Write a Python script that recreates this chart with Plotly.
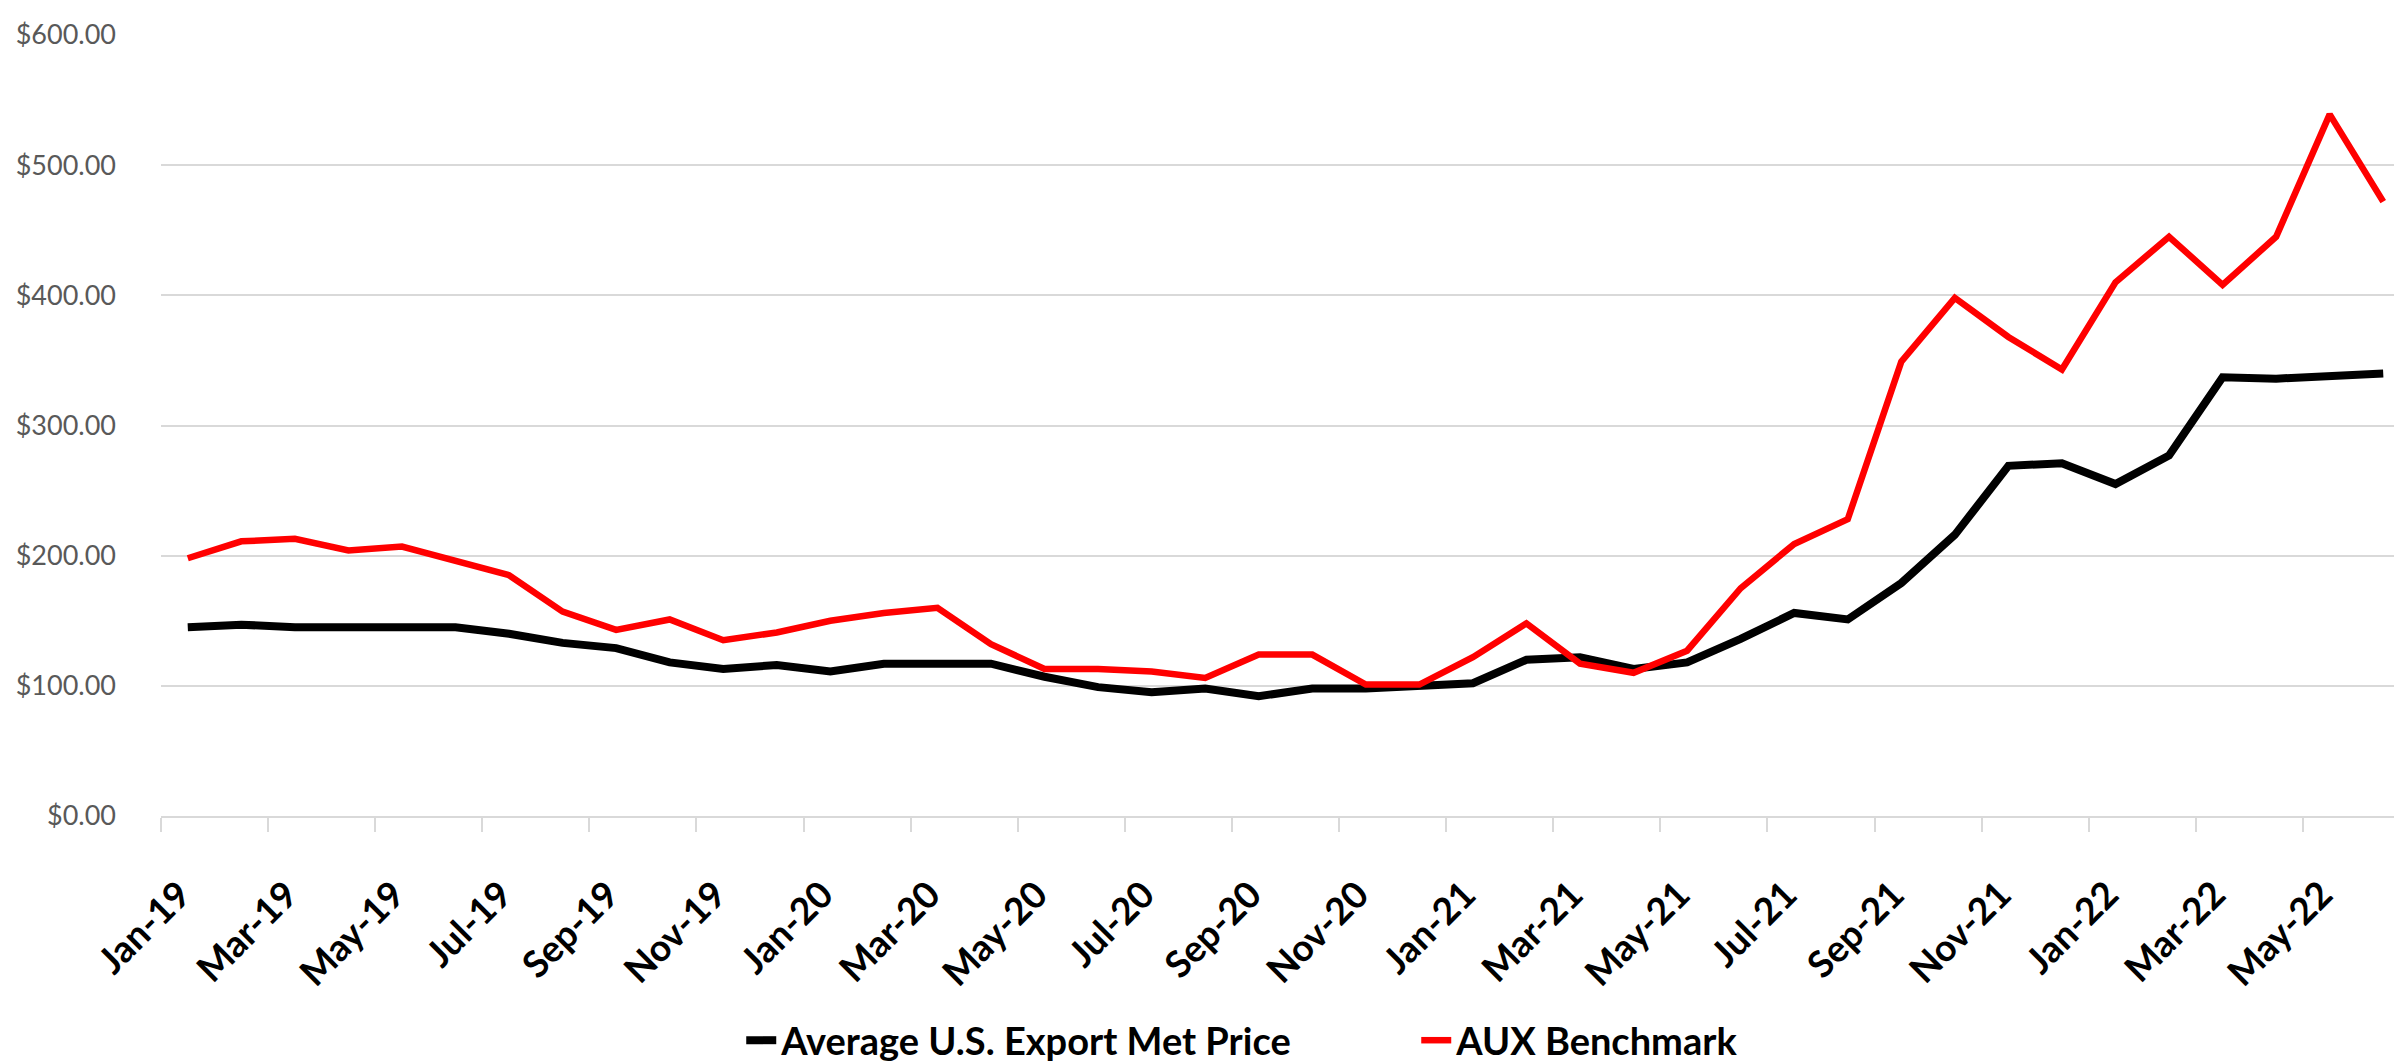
import plotly.graph_objects as go

months = ["Jan-19", "Feb-19", "Mar-19", "Apr-19", "May-19", "Jun-19", "Jul-19", "Aug-19", "Sep-19", "Oct-19",
          "Nov-19", "Dec-19", "Jan-20", "Feb-20", "Mar-20", "Apr-20", "May-20", "Jun-20", "Jul-20", "Aug-20",
          "Sep-20", "Oct-20", "Nov-20", "Dec-20", "Jan-21", "Feb-21", "Mar-21", "Apr-21", "May-21", "Jun-21",
          "Jul-21", "Aug-21", "Sep-21", "Oct-21", "Nov-21", "Dec-21", "Jan-22", "Feb-22", "Mar-22", "Apr-22",
          "May-22", "Jun-22"]

us_export_met_price = [145, 147, 145, 145, 145, 145, 140, 133, 129, 118,
                       113, 116, 111, 117, 117, 117, 107, 99, 95, 98,
                       92, 98, 98, 100, 102, 120, 122, 113, 118, 136,
                       156, 151, 179, 216, 269, 271, 255, 277, 337, 336,
                       338, 340]

aux_benchmark = [198, 211, 213, 204, 207, 196, 185, 157, 143, 151,
                 135, 141, 150, 156, 160, 132, 113, 113, 111, 106,
                 124, 124, 101, 101, 122, 148, 117, 110, 127, 175,
                 209, 228, 349, 398, 368, 343, 410, 445, 408, 445,
                 539, 472]

series_names = ["Average U.S. Export Met Price", "AUX Benchmark"]

x_idx = list(range(len(months)))
tick_idx = x_idx[::2]
tick_text = months[::2]

fig = go.Figure()
fig.add_trace(go.Scatter(x=x_idx, y=us_export_met_price, mode="lines", name=series_names[0],
                         line=dict(color="#000000", width=8)))
fig.add_trace(go.Scatter(x=x_idx, y=aux_benchmark, mode="lines", name=series_names[1],
                         line=dict(color="#ff0000", width=6.5)))

FONT = "Lato, Carlito, Calibri, sans-serif"

fig.update_layout(
    width=2402, height=1064,
    margin=dict(l=153, r=0, t=27, b=248),
    paper_bgcolor="white", plot_bgcolor="white",
    font=dict(family=FONT, color="#000000"),
    showlegend=True,
    legend=dict(orientation="h", x=0.258, xanchor="left", y=-0.288, yanchor="middle",
                font=dict(family=FONT, size=38, color="#000000", weight="bold"),
                entrywidth=630, entrywidthmode="pixels",
                bgcolor="rgba(0,0,0,0)", borderwidth=0),
    xaxis=dict(
        range=[-0.5, len(months) - 0.5],
        tickmode="array", tickvals=tick_idx, ticktext=tick_text,
        tickangle=-45, ticks="", showgrid=False, zeroline=False,
        showline=True, linecolor="#d9d9d9", linewidth=2,
        tickfont=dict(family=FONT, size=37, color="#000000", weight="bold"),
        ticklabelstandoff=40, ticklabelshift=-8,
        minor=dict(tick0=-0.5, dtick=2, ticks="outside", ticklen=14, tickwidth=2,
                   tickcolor="#d9d9d9", showgrid=False),
    ),
    yaxis=dict(
        range=[0, 600], dtick=100, tick0=0, tickformat="$,.2f",
        showgrid=True, gridcolor="#d9d9d9", gridwidth=2,
        zeroline=False, showline=False, ticks="",
        tickfont=dict(family=FONT, size=27, color="#595959"),
        ticklabelstandoff=44,
    ),
)

fig.write_html("out.html")
